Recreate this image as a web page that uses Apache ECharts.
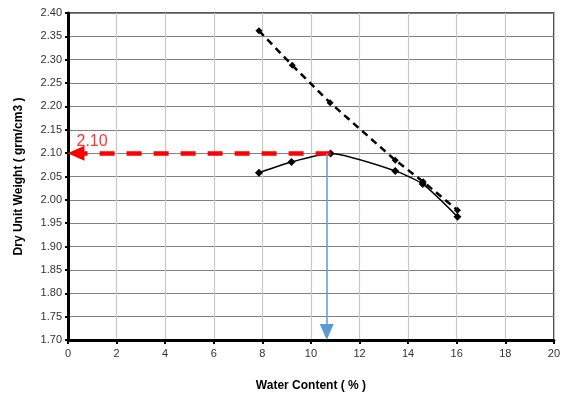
<!DOCTYPE html>
<html>
<head>
<meta charset="utf-8">
<script src="https://cdn.jsdelivr.net/npm/echarts@6/dist/echarts.min.js"></script>
<style>
  html, body { margin: 0; padding: 0; background: #fff; }
  #chart { width: 563px; height: 397px; }
</style>
</head>
<body>
<div id="chart"></div>
<script>
// compaction curve (measured points)
const waterContent = [7.86, 9.2, 10.81, 13.47, 14.6, 16.03]
const dryUnitWeight = [2.058, 2.081, 2.099, 2.062, 2.034, 1.964]
// zero air voids line
const zavWater = [7.86, 9.23, 10.79, 13.47, 14.62, 16.03]
const zavWeight = [2.362, 2.288, 2.208, 2.085, 2.039, 1.978]
// max dry unit weight / optimum water content read-off
const maxDry = 2.10
const optWater = 10.65
const peakWater = 10.81

const chartDom = document.getElementById('chart')
const myChart = echarts.init(chartDom)

const font = 'Liberation Sans, Arial, sans-serif'

const option = {
  backgroundColor: '#fff',
  animation: false,
  grid: {
    left: 68, right: 8, top: 13, bottom: 54,
    show: true, borderColor: '#222', borderWidth: 1.5
  },
  xAxis: {
    type: 'value',
    min: 0, max: 20, interval: 2,
    name: 'Water Content ( % )',
    nameLocation: 'middle',
    nameGap: 40,
    nameTextStyle: { fontFamily: font, fontSize: 12, fontWeight: 'bold', color: '#000' },
    axisLine: { onZero: false, lineStyle: { color: '#000', width: 3 } },
    axisTick: { show: true, length: 4, lineStyle: { color: '#000', width: 2 } },
    axisLabel: { fontFamily: font, fontSize: 11, color: '#333', margin: 8 },
    splitLine: { show: true, lineStyle: { color: '#c8c8c8', width: 1.2 } }
  },
  yAxis: {
    type: 'value',
    min: 1.7, max: 2.4, interval: 0.05,
    name: 'Dry Unit Weight ( grm/cm3 )',
    nameLocation: 'middle',
    nameGap: 43,
    nameTextStyle: { fontFamily: font, fontSize: 12, fontWeight: 'bold', color: '#000' },
    axisLine: { onZero: false, lineStyle: { color: '#000', width: 3 } },
    axisTick: { show: true, length: 3, lineStyle: { color: '#000', width: 2 } },
    axisLabel: {
      fontFamily: font, fontSize: 11, color: '#333', margin: 6,
      formatter: v => v.toFixed(2)
    },
    splitLine: { show: true, lineStyle: { color: '#808080', width: 1.2 } }
  },
  series: [
    {
      name: 'zav',
      type: 'line',
      data: zavWater.map((w, i) => [w, zavWeight[i]]),
      symbol: 'diamond',
      symbolSize: 7,
      itemStyle: { color: '#000' },
      lineStyle: { color: '#000', width: 2.5, type: [7, 5] },
      z: 3
    },
    {
      name: 'compaction',
      type: 'line',
      data: waterContent.map((w, i) => [w, dryUnitWeight[i]]),
      symbol: 'diamond',
      symbolSize: 8,
      smooth: 0.2,
      itemStyle: { color: '#000' },
      lineStyle: { color: '#000', width: 1.5 },
      z: 4
    },
    {
      // read-off arrows (arrowheads are centred on their end point)
      name: 'arrows',
      type: 'line',
      data: [],
      markLine: {
        silent: true,
        animation: false,
        label: { show: false },
        data: [
          [
            { coord: [peakWater, maxDry], symbol: 'none',
              lineStyle: { color: '#ff0000', width: 4.5, type: [15, 12] } },
            { coord: [0.33, maxDry], symbol: 'triangle', symbolSize: [15, 17] }
          ],
          [
            { coord: [optWater, maxDry], symbol: 'none',
              lineStyle: { color: '#5b9bd5', width: 1.5, type: 'solid' } },
            { coord: [optWater, 1.717], symbol: 'triangle', symbolSize: [14, 16] }
          ]
        ]
      },
      z: 2
    },
    {
      name: 'label',
      type: 'scatter',
      data: [[0.99, 2.124]],
      symbolSize: 0,
      label: {
        show: true,
        position: 'inside',
        formatter: maxDry.toFixed(2),
        fontFamily: font,
        fontSize: 16,
        color: '#ff0000'
      },
      z: 5
    }
  ]
}

option && myChart.setOption(option)
</script>
</body>
</html>
